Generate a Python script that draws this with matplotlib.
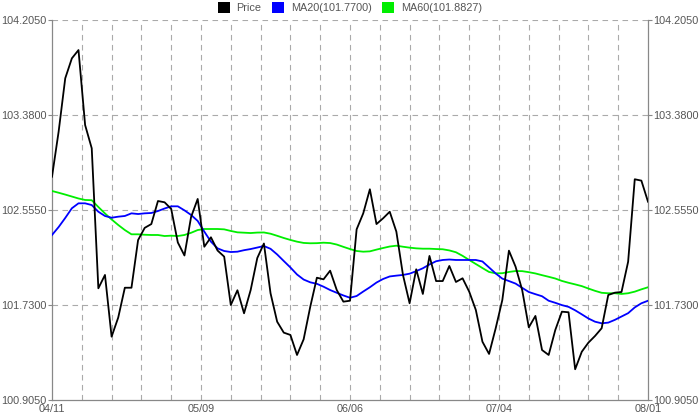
import matplotlib
matplotlib.use("Agg")
import matplotlib.pyplot as plt
from matplotlib.patches import Patch
import numpy as np

price = [102.844, 103.235, 103.699, 103.872, 103.944, 103.293, 103.091, 101.875, 101.991, 101.455,
         101.621, 101.880, 101.880, 102.294, 102.400, 102.433, 102.633, 102.622, 102.564, 102.273,
         102.160, 102.494, 102.651, 102.236, 102.318, 102.203, 102.150, 101.730, 101.858, 101.658,
         101.860, 102.138, 102.264, 101.832, 101.585, 101.490, 101.470, 101.296, 101.432, 101.715,
         101.967, 101.953, 102.028, 101.860, 101.759, 101.767, 102.387, 102.526, 102.735, 102.433,
         102.483, 102.540, 102.367, 101.991, 101.745, 102.040, 101.826, 102.156, 101.938, 101.938,
         102.069, 101.930, 101.962, 101.846, 101.687, 101.411, 101.305, 101.528, 101.773, 102.202,
         102.063, 101.860, 101.536, 101.635, 101.339, 101.296, 101.513, 101.672, 101.667, 101.172,
         101.324, 101.403, 101.461, 101.528, 101.817, 101.837, 101.843, 102.106, 102.822, 102.810,
         102.627]

ma20 = [102.338, 102.407, 102.486, 102.570, 102.613, 102.613, 102.598, 102.540, 102.503, 102.488,
        102.497, 102.503, 102.526, 102.520, 102.526, 102.529, 102.546, 102.568, 102.587, 102.587,
        102.552, 102.512, 102.460, 102.367, 102.280, 102.222, 102.199, 102.190, 102.193, 102.206,
        102.216, 102.229, 102.242, 102.218, 102.169, 102.112, 102.056, 101.995, 101.951, 101.927,
        101.914, 101.889, 101.860, 101.836, 101.813, 101.793, 101.808, 101.847, 101.884, 101.925,
        101.956, 101.978, 101.985, 101.991, 102.002, 102.024, 102.049, 102.082, 102.110, 102.121,
        102.125, 102.121, 102.121, 102.121, 102.121, 102.108, 102.056, 102.004, 101.959, 101.938,
        101.916, 101.879, 101.843, 101.824, 101.806, 101.767, 101.749, 101.729, 101.714, 101.684,
        101.649, 101.613, 101.585, 101.571, 101.577, 101.601, 101.630, 101.659, 101.709, 101.745,
        101.767]

ma60 = [102.720, 102.705, 102.689, 102.672, 102.655, 102.642, 102.640, 102.581, 102.525, 102.473,
        102.425, 102.381, 102.344, 102.344, 102.340, 102.338, 102.338, 102.329, 102.332, 102.329,
        102.338, 102.357, 102.381, 102.390, 102.390, 102.390, 102.387, 102.373, 102.361, 102.358,
        102.355, 102.359, 102.360, 102.349, 102.331, 102.312, 102.295, 102.280, 102.269, 102.266,
        102.267, 102.271, 102.268, 102.255, 102.235, 102.216, 102.199, 102.193, 102.196, 102.211,
        102.225, 102.238, 102.245, 102.236, 102.228, 102.222, 102.219, 102.219, 102.216, 102.214,
        102.204, 102.188, 102.157, 102.121, 102.086, 102.051, 102.017, 102.005, 102.006, 102.017,
        102.025, 102.024, 102.015, 102.004, 101.989, 101.975, 101.960, 101.939, 101.923, 101.909,
        101.894, 101.873, 101.853, 101.836, 101.832, 101.832, 101.826, 101.832, 101.846, 101.866,
        101.884]

date_labels = ["04/11", "05/09", "06/06", "07/04", "08/01"]
y_ticks = [100.905, 101.730, 102.555, 103.380, 104.205]
legend_labels = ["Price", "MA20(101.7700)", "MA60(101.8827)"]

plt.rcParams['font.family'] = ['Liberation Sans', 'DejaVu Sans']

fig = plt.figure(figsize=(7, 4.2), dpi=100)
ax = fig.add_axes([52/700, 20/420, 596/700, 380/420])

n = len(price)
x = np.arange(n)
xmax = n - 1

ax.plot(x, ma60, color='#00ee00', lw=1.3, zorder=3)
ax.plot(x, ma20, color='#0000ff', lw=1.3, zorder=4)
ax.plot(x, price, color='black', lw=1.3, zorder=5)

ax.set_xlim(0, xmax)
ax.set_ylim(y_ticks[0], y_ticks[-1])

grid_color = '#aaaaaa'
for k in range(1, 20):
    ax.axvline(xmax * k / 20, color=grid_color, lw=0.8, ls=(0, (5, 4)), zorder=1)
for yt in y_ticks[1:]:
    ax.axhline(yt, color=grid_color, lw=0.8, ls=(0, (5, 4)), zorder=1)

ax.set_yticks(y_ticks)
ax.set_yticklabels([f"{v:.4f}" for v in y_ticks])
ax.set_xticks([xmax * k / 4 for k in range(5)])
ax.set_xticklabels(date_labels)

ax.tick_params(axis='y', which='both', left=True, right=True, labelleft=True, labelright=True,
               length=3, width=0.8, color='#888888', labelsize=7.8, labelcolor='#555555', pad=1)
ax.tick_params(axis='x', length=0, labelsize=7.8, labelcolor='#555555', pad=3)

for s in ['left', 'right', 'bottom']:
    ax.spines[s].set_color('#888888')
    ax.spines[s].set_linewidth(0.9)
ax.spines['top'].set_visible(False)

handles = [Patch(facecolor='black', edgecolor='none'),
           Patch(facecolor='#0000ff', edgecolor='none'),
           Patch(facecolor='#00ee00', edgecolor='none')]
leg = fig.legend(handles, legend_labels, loc='upper center', bbox_to_anchor=(0.5, 1.018), ncol=3,
                 frameon=False, fontsize=7.8, handlelength=1.1, handleheight=1.2,
                 handletextpad=0.6, columnspacing=1.0)
for t in leg.get_texts():
    t.set_color('#555555')

fig.savefig('out.png', dpi=100)
